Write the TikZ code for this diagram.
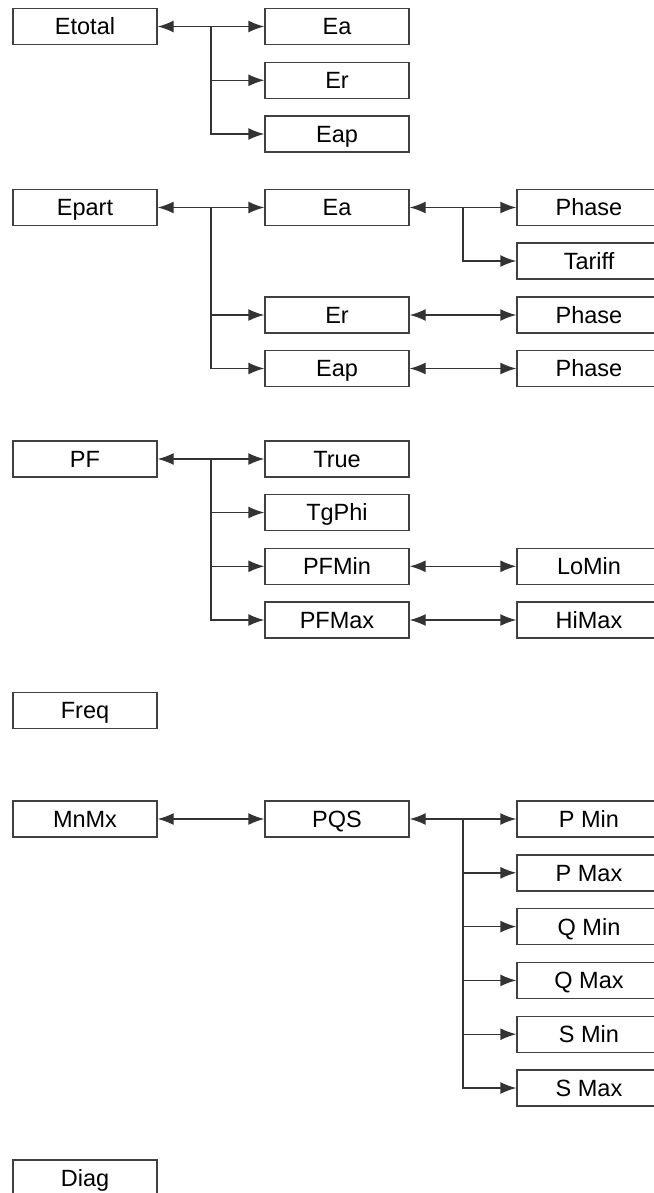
\documentclass[tikz,border=0pt]{standalone}
\usepackage{fontspec}
\setmainfont{Liberation Sans}
\usetikzlibrary{arrows.meta,calc}
\begin{document}
\begin{tikzpicture}[x=1pt,y=-1pt,
  box/.style={draw=black!75,line width=1.4pt,minimum width=144pt,minimum height=36pt,inner sep=0pt,
    text height=16.8pt,text depth=0pt,font=\fontsize{23.5}{25}\selectfont},
  conn/.style={draw=black!80,line width=1.4pt},
  >={Latex[length=16pt,width=12pt]}]
\useasboundingbox[fill=white] (0,0) rectangle (653,1193);
% column x centres
\def\xl{85}\def\xm{337}\def\xr{589}
% group 1
\node[box] (etot) at (\xl,26.5) {Etotal};
\node[box] (ea1) at (\xm,26.5) {Ea};
\node[box] (er1) at (\xm,80.3) {Er};
\node[box] (eap1) at (\xm,134) {Eap};
\draw[conn,<->] (etot) -- (ea1);
\coordinate (b1) at ($(etot.east)!0.5!(ea1.west)$);
\draw[conn,->] (b1) |- (er1);
\draw[conn,->] (b1) |- (eap1);
% group 2
\node[box] (epart) at (\xl,207.5) {Epart};
\node[box] (ea2) at (\xm,207.5) {Ea};
\node[box] (er2) at (\xm,315) {Er};
\node[box] (eap2) at (\xm,368.5) {Eap};
\node[box] (ph1) at (\xr,207.5) {Phase};
\node[box] (tar) at (\xr,261) {Tariff};
\node[box] (ph2) at (\xr,315) {Phase};
\node[box] (ph3) at (\xr,368.5) {Phase};
\draw[conn,<->] (epart) -- (ea2);
\coordinate (b2) at ($(epart.east)!0.5!(ea2.west)$);
\draw[conn,->] (b2) |- (er2);
\draw[conn,->] (b2) |- (eap2);
\draw[conn,<->] (ea2) -- (ph1);
\coordinate (b3) at ($(ea2.east)!0.5!(ph1.west)$);
\draw[conn,->] (b3) |- (tar);
\draw[conn,<->] (er2) -- (ph2);
\draw[conn,<->] (eap2) -- (ph3);
% group 3
\node[box] (pf) at (\xl,459) {PF};
\node[box] (true) at (\xm,459) {True};
\node[box] (tg) at (\xm,512.5) {TgPhi};
\node[box] (pfmin) at (\xm,566.3) {PFMin};
\node[box] (pfmax) at (\xm,620) {PFMax};
\node[box] (lomin) at (\xr,566.3) {LoMin};
\node[box] (himax) at (\xr,620) {HiMax};
\draw[conn,<->] (pf) -- (true);
\coordinate (b4) at ($(pf.east)!0.5!(true.west)$);
\draw[conn,->] (b4) |- (tg);
\draw[conn,->] (b4) |- (pfmin);
\draw[conn,->] (b4) |- (pfmax);
\draw[conn,<->] (pfmin) -- (lomin);
\draw[conn,<->] (pfmax) -- (himax);
% group 4
\node[box] (freq) at (\xl,710.5) {Freq};
% group 5
\node[box] (mnmx) at (\xl,819) {MnMx};
\node[box] (pqs) at (\xm,819) {PQS};
\node[box] (pmin) at (\xr,819) {P Min};
\node[box] (pmax) at (\xr,872.8) {P Max};
\node[box] (qmin) at (\xr,926.6) {Q Min};
\node[box] (qmax) at (\xr,980.4) {Q Max};
\node[box] (smin) at (\xr,1034.2) {S Min};
\node[box] (smax) at (\xr,1088) {S Max};
\draw[conn,<->] (mnmx) -- (pqs);
\draw[conn,<->] (pqs) -- (pmin);
\coordinate (b5) at ($(pqs.east)!0.5!(pmin.west)$);
\draw[conn,->] (b5) |- (pmax);
\draw[conn,->] (b5) |- (qmin);
\draw[conn,->] (b5) |- (qmax);
\draw[conn,->] (b5) |- (smin);
\draw[conn,->] (b5) |- (smax);
% group 6
\node[box] (diag) at (\xl,1178) {Diag};
\end{tikzpicture}
\end{document}
